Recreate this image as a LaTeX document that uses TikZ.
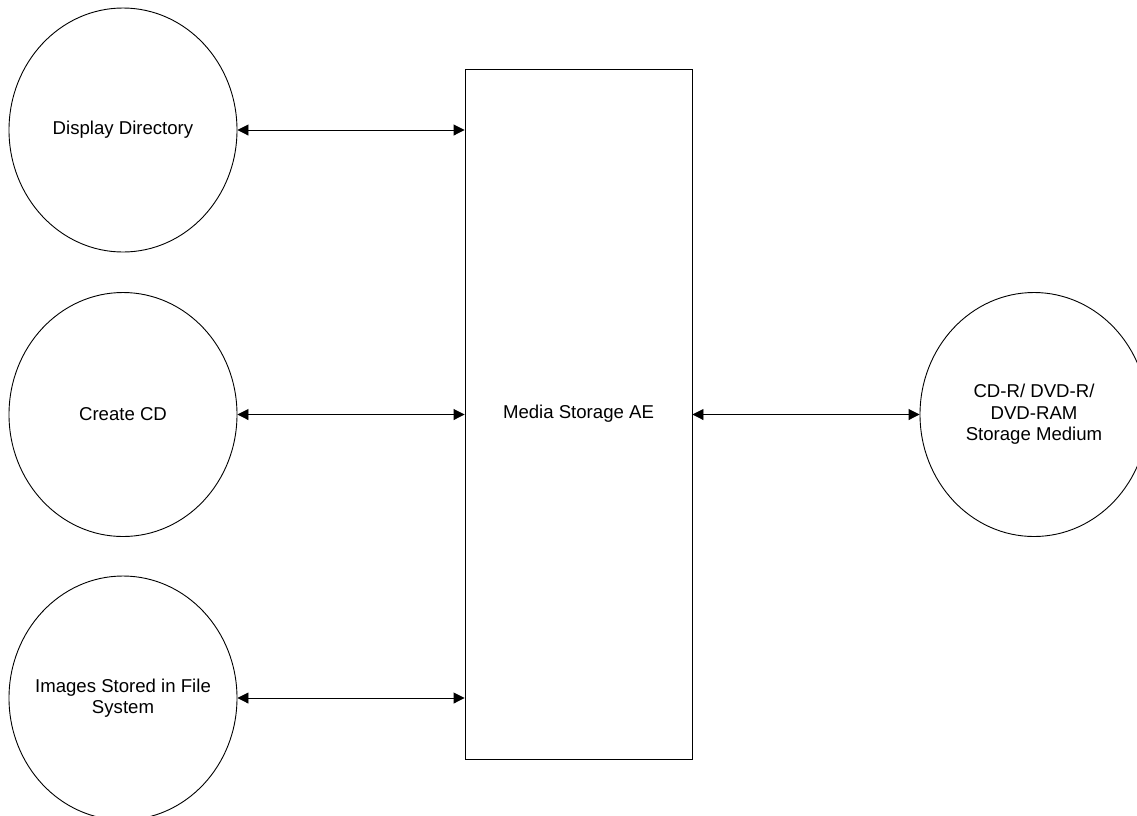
\documentclass[tikz,border=0pt]{standalone}
\usepackage{fontspec}
\setmainfont{Liberation Sans}
\usetikzlibrary{shapes.geometric,arrows.meta}
\begin{document}
\begin{tikzpicture}[x=1pt,y=-1pt,
  every node/.style={font=\fontsize{18.6}{21.5}\selectfont, align=center},
  process/.style={draw, line width=0.9pt, ellipse, minimum width=228pt, minimum height=244pt, inner sep=0pt},
  store/.style={draw, line width=0.9pt, rectangle, minimum width=227pt, minimum height=690pt, inner sep=0pt},
  flow/.style={line width=0.9pt, {Triangle[length=11pt,width=11pt]}-{Triangle[length=11pt,width=11pt]}}]
  \useasboundingbox (0,0) rectangle (1137,815);
  \clip (0,0) rectangle (1137,815);
  \fill[white] (0,0) rectangle (1137,815);

  % left-hand processes
  \node[process, label=center:{Display Directory}] (dd) at (123,130) {};
  \node[process, label=center:{Create CD}] (cd) at (123,414.5) {};
  \node[process, label=center:{Images Stored in File\\System}] (img) at (123,698) {};

  % central application entity
  \node[store, label=center:{Media Storage AE}] (ae) at (578.5,414) {};

  % storage medium
  \node[process, label=center:{CD-R/ DVD-R/\\DVD-RAM\\Storage Medium}] (med) at (1034,414.5) {};

  % data flows
  \draw[flow] (dd.east) -- (dd.east -| ae.west);
  \draw[flow] (cd.east) -- (cd.east -| ae.west);
  \draw[flow] (img.east) -- (img.east -| ae.west);
  \draw[flow] (med.west -| ae.east) -- (med.west);
\end{tikzpicture}
\end{document}
